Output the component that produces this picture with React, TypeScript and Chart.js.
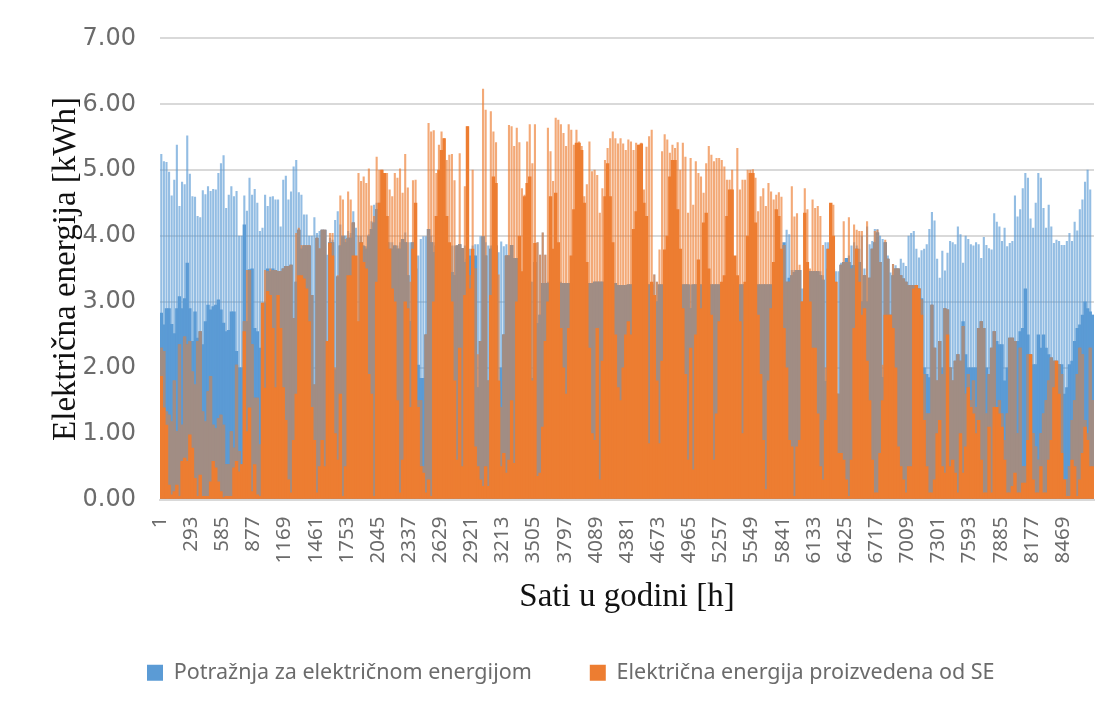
import React, { useEffect, useRef } from "react";
import { Chart, registerables } from "chart.js";

Chart.register(...registerables);

const hourTicks = [1,293,585,877,1169,1461,1753,2045,2337,2629,2921,3213,3505,3797,4089,4381,4673,4965,5257,5549,5841,6133,6425,6717,7009,7301,7593,7885,8177,8469];
const yTicks = [0,1,2,3,4,5,6,7];

// Daily peak of the demand (thin pale blue bars)
const demandPeak = [
5.24,5.13,5.12,4.97,4.61,4.85,5.38,4.45,4.82,4.78,5.52,4.94,4.6,4.59,4.3,4.28,4.69,4.63,4.75,4.68,4.71,4.7,4.95,5.1,5.22,4.42,4.62,4.75,4.6,4.68,4.0,4.0,4.61,4.38,4.88,4.62,4.71,4.5,4.07,4.12,4.62,4.45,4.59,4.6,4.55,
4.55,4.14,4.85,4.91,4.55,4.67,5.05,5.15,4.66,4.62,4.32,4.32,4.0,4.0,4.28,4.04,4.07,4.09,3.97,3.71,3.97,3.94,4.24,4.37,4.17,3.97,4.0,4.07,4.04,4.37,4.12,4.0,4.0,3.86,3.84,4.02,4.22,4.47,4.5,4.5,4.4,4.3,4.3,3.9,3.9,
3.85,3.85,3.9,3.9,4.05,3.9,3.9,3.75,3.75,3.7,3.95,3.99,3.99,3.9,4.0,3.9,3.8,3.75,3.7,3.7,3.7,3.7,3.85,3.85,3.85,3.87,3.81,3.85,3.8,3.8,3.85,3.87,3.87,3.99,3.9,3.9,3.85,3.85,3.85,3.85,3.75,3.91,3.84,3.87,3.7,
3.86,3.66,3.66,3.5,3.3,3.3,3.3,3.3,3.3,3.6,3.9,3.71,4.05,3.71,3.3,3.3,3.3,3.3,3.3,3.3,3.28,3.28,3.28,3.28,3.28,3.28,3.28,3.28,3.28,3.28,3.28,3.28,3.3,3.3,3.3,3.3,3.28,3.28,3.28,3.28,3.28,3.25,3.25,3.25,3.25,
3.26,3.26,3.26,3.26,3.26,3.26,3.26,3.26,3.26,3.26,3.41,3.3,3.26,3.26,3.26,3.26,3.26,3.26,3.26,3.26,3.26,3.26,3.26,3.26,3.26,3.26,3.26,3.26,3.26,3.26,3.26,3.26,3.26,3.26,3.26,3.26,3.26,3.26,3.26,3.26,3.26,3.26,3.26,3.26,3.26,
3.26,3.26,3.26,3.26,3.26,3.26,3.26,3.26,3.26,3.26,3.26,3.26,3.26,3.26,3.26,3.86,4.09,4.02,3.48,3.48,3.48,3.48,3.2,3.4,3.46,3.46,3.46,3.46,3.46,3.46,3.4,3.9,3.9,3.9,3.8,3.46,3.46,3.59,3.6,3.66,3.7,3.85,3.9,3.85,3.8,
4.0,3.5,4.14,3.87,3.92,4.1,4.1,4.0,3.95,3.85,3.7,3.44,3.57,3.55,3.47,3.65,3.59,3.54,4.0,4.04,4.07,3.8,3.67,3.78,3.8,3.87,4.1,4.36,4.23,3.65,3.36,3.77,3.47,3.74,3.92,3.9,3.87,4.14,4.02,3.59,4.0,3.95,3.87,3.85,3.9,
3.87,3.66,3.98,3.86,3.81,3.79,4.34,4.21,4.14,3.92,4.12,3.84,3.89,3.92,4.61,4.29,4.4,4.72,4.95,4.88,4.26,4.12,4.5,4.95,4.88,4.42,4.12,4.47,4.14,3.89,3.94,3.92,3.86,3.86,3.92,4.04,3.92,4.21,4.08,4.4,4.55,4.82,5.0,4.7,2.8,
];

// Level up to which the demand forms a filled blue body
const demandBody = [
2.83,2.65,2.9,2.9,2.66,2.52,2.9,3.08,2.9,3.05,3.59,2.9,2.4,2.85,2.45,2.55,2.35,2.7,2.95,2.88,2.93,2.95,3.03,2.88,2.68,2.55,2.57,2.85,2.85,2.25,2.0,2.0,4.17,2.7,3.49,3.5,2.6,2.55,2.3,2.25,2.98,3.5,3.46,3.5,3.48,
3.46,3.46,3.5,3.54,3.54,3.56,2.75,3.3,4.09,3.8,3.85,3.85,3.85,3.1,1.74,3.97,3.8,4.09,4.09,2.3,3.9,3.9,1.97,3.38,3.85,4.0,3.9,3.97,3.97,4.2,2.1,2.0,3.9,3.84,3.8,4.0,4.1,4.2,4.4,4.0,3.9,3.9,3.9,3.8,3.8,
3.85,3.8,3.8,3.95,3.9,3.4,2.7,3.9,3.5,2.04,1.84,1.84,2.5,4.1,3.9,3.75,3.85,3.7,3.7,3.7,3.7,3.55,3.45,3.4,3.85,3.87,3.81,3.6,3.65,3.7,3.7,3.7,1.7,2.4,3.99,3.7,1.8,3.8,3.85,3.85,1.7,2.0,2.5,3.7,3.7,
3.86,3.66,3.66,3.5,3.3,3.3,3.3,3.3,1.84,3.6,2.67,2.8,3.28,3.28,3.28,3.28,3.28,3.28,3.28,3.28,3.28,3.28,3.28,3.28,3.28,3.28,3.28,3.28,3.28,3.28,3.28,3.28,3.3,3.3,3.3,3.3,3.28,3.28,3.28,3.28,3.28,3.25,3.25,3.25,3.25,
3.26,3.26,3.26,3.26,3.26,3.26,3.26,3.26,3.26,3.26,3.05,3.0,3.26,3.26,3.26,3.26,3.26,3.26,3.26,3.26,3.26,3.26,3.26,3.26,2.9,3.26,3.26,3.26,3.26,3.26,3.26,3.26,3.26,3.26,3.26,3.26,3.26,3.26,3.26,3.26,3.26,2.78,3.26,3.26,3.26,
3.26,3.26,3.26,3.26,3.26,3.26,3.26,3.26,3.26,3.26,3.26,3.26,3.26,3.26,3.26,3.9,3.3,3.36,3.4,3.45,3.48,3.48,2.85,3.2,3.4,3.46,3.46,3.46,3.46,3.4,3.33,1.79,3.8,3.6,3.5,1.6,1.6,3.56,3.6,3.66,3.6,3.55,3.55,3.8,3.6,
3.0,3.4,3.0,3.36,3.8,3.9,4.05,3.6,1.85,3.9,3.65,2.8,3.4,3.5,3.5,3.4,3.35,3.3,3.25,3.25,3.25,3.2,3.2,3.05,2.0,1.9,1.85,2.95,2.3,1.8,2.4,2.0,2.9,2.88,2.0,1.8,2.1,2.2,2.1,2.7,2.2,2.0,2.0,2.0,2.0,
2.6,2.7,2.6,2.0,1.9,2.3,2.55,2.4,2.35,2.35,1.8,2.0,2.45,2.45,2.4,2.4,2.55,2.6,3.2,2.5,2.2,2.05,2.05,2.5,2.3,2.5,2.3,2.2,2.15,2.1,2.1,2.05,2.05,1.6,1.7,2.05,2.1,2.4,2.6,2.65,2.8,3.0,2.9,2.85,2.8,
];

// Daily peak of the solar production (thin pale orange bars)
const solarPeak = [
2.3,2.25,1.33,1.28,1.18,1.8,1.03,2.35,1.13,2.47,2.35,2.4,1.94,1.74,2.4,2.55,1.33,1.18,1.64,1.87,1.13,1.08,1.23,1.28,1.13,.53,.53,1.03,.78,2.04,.73,.53,2.7,3.48,3.48,2.35,1.54,1.54,.83,2.98,3.48,3.46,3.5,3.48,3.48,
3.46,3.46,3.5,3.54,3.54,3.56,2.75,4.04,4.12,3.86,3.86,3.86,3.86,3.1,1.74,3.97,3.81,4.09,4.09,2.37,4.04,4.04,2.0,3.4,4.61,4.55,3.95,4.67,4.55,4.2,2.1,4.95,4.83,4.9,4.8,5.02,4.46,4.3,5.2,5.0,5.0,4.95,4.95,4.7,4.6,
4.95,4.88,5.02,4.65,5.24,4.73,3.3,4.84,4.85,1.5,1.5,.5,2.5,5.71,5.58,5.6,4.95,5.38,5.58,5.48,5.15,5.23,5.24,4.84,3.85,5.25,3.81,4.75,5.66,3.4,5.0,3.5,2.2,2.4,6.23,5.91,1.8,5.89,5.58,5.42,3.41,1.4,2.5,3.7,5.68,
5.66,5.36,5.64,5.42,4.72,4.62,5.43,5.69,5.1,5.69,3.9,3.71,4.05,3.71,5.64,5.28,4.83,5.79,5.76,5.69,5.56,5.36,5.69,5.61,5.38,5.61,5.43,5.36,4.6,4.78,5.43,4.98,5.0,4.92,4.35,4.72,5.15,5.33,5.48,5.58,5.48,5.4,5.48,5.4,5.3,
5.46,5.43,5.3,5.41,5.38,5.41,4.7,5.35,5.51,5.61,3.41,3.3,3.79,5.28,5.54,5.46,5.26,5.38,5.33,5.42,5.0,5.41,5.2,4.35,5.18,4.47,5.13,4.95,4.9,4.65,5.1,5.36,5.23,5.13,5.18,5.18,5.15,5.05,4.85,4.85,5.0,3.26,5.33,4.7,4.85,
4.85,5.0,5.0,5.01,4.88,4.37,4.6,4.72,4.45,4.8,4.67,4.55,4.62,4.66,4.59,3.86,3.3,3.3,4.75,4.29,4.34,3.56,3.0,4.72,4.4,3.5,4.55,4.42,4.45,4.3,3.86,2.0,3.5,4.45,4.47,3.3,1.6,3.56,4.22,3.6,4.28,3.5,4.17,4.09,4.07,
4.07,3.4,4.22,3.36,3.8,4.07,4.09,3.6,2.04,3.94,3.65,2.8,3.57,3.5,3.5,3.4,3.35,3.3,3.25,3.25,3.25,3.2,3.2,3.03,1.9,1.3,1.3,2.95,2.3,1.8,2.4,1.9,2.9,2.88,2.0,1.8,2.1,2.2,2.1,2.63,1.6,1.9,1.5,1.8,1.4,
2.6,2.7,2.6,1.3,1.9,2.3,2.55,1.4,1.5,1.3,.9,1.3,2.45,2.45,2.4,1.0,2.3,.5,.5,2.2,2.2,1.0,.8,.6,1.0,1.3,1.5,1.8,2.15,2.1,2.1,2.05,1.9,.3,.3,.5,1.2,1.5,1.9,2.3,2.2,1.2,1.0,2.3,1.5,
];

// Level up to which the solar production forms a filled orange body
const solarBody = [
1.87,1.39,1.13,.22,.07,.12,.22,.05,.58,.63,.58,.98,.78,.32,.05,.37,.05,.05,.05,.27,.58,.48,.27,.12,.03,.05,.05,.05,.48,.58,.42,.53,2.55,1.03,1.39,.12,.53,.07,.05,2.98,1.69,3.16,3.1,2.6,1.7,
3.1,2.6,1.7,1.2,.3,.1,.9,1.6,3.4,3.4,3.35,3.2,2.7,1.4,.9,.1,.5,.9,.5,2.4,3.89,3.7,1.0,.6,1.6,.05,.5,3.4,3.4,3.7,3.7,2.7,3.9,3.6,3.5,1.9,1.6,.05,3.3,4.5,5.0,4.95,4.3,3.8,3.2,
3.0,1.5,.1,.6,3.0,2.9,1.4,3.8,4.5,1.4,.5,.4,.1,.3,.05,3.0,4.3,5.0,5.3,5.48,4.3,3.9,3.0,1.8,.6,2.3,.5,3.1,5.66,3.2,3.8,.8,.5,.3,.2,.5,.2,3.1,4.9,4.8,1.8,.5,.7,.4,.6,
1.5,.55,3.0,4.0,3.46,4.6,4.8,4.9,1.8,3.89,.35,.4,1.1,2.4,3.0,4.6,3.8,4.65,3.9,2.6,2.0,1.6,2.6,3.7,4.4,5.41,5.41,5.3,4.5,3.6,2.3,1.0,.9,2.6,.3,2.1,4.6,5.1,4.6,3.9,2.5,1.7,1.5,2.0,2.5,
2.7,2.5,4.1,4.37,5.38,5.4,4.5,4.3,.85,3.3,3.1,1.8,.85,2.1,3.79,4.0,4.9,5.15,5.15,4.4,3.8,2.9,1.9,.6,2.3,.45,2.5,3.64,2.9,4.2,4.35,3.5,2.8,.6,1.3,2.7,3.3,3.4,4.3,4.7,4.7,3.7,3.4,2.7,1.0,
3.3,4.0,4.95,4.95,4.2,2.8,1.9,.9,.15,1.8,2.9,3.6,4.4,4.3,3.8,2.6,2.0,.9,.8,.05,.8,.9,3.0,4.35,3.6,3.0,2.3,2.3,1.3,.5,.3,1.2,3.8,4.5,4.0,3.3,.7,.7,.6,.3,.05,.6,2.6,3.8,3.3,
2.8,2.9,2.1,1.5,.6,.1,.1,.7,1.5,2.8,2.8,2.8,2.6,2.0,.8,.5,.3,.1,.5,.5,3.2,3.25,3.2,2.8,1.2,.5,.1,.1,.3,1.0,1.2,.5,.4,2.5,.5,.6,.4,.1,1.0,.4,.8,1.7,1.4,1.3,1.0,
1.2,.6,.1,.1,1.1,.1,1.4,1.4,1.3,1.1,.6,.1,.1,.2,.4,.1,.1,.25,.25,.9,2.2,.3,.1,.1,.5,.1,.1,.6,.9,1.7,2.1,1.6,.7,.3,.05,.05,.6,.5,.05,.3,.7,1.1,.9,.5,.5,
];

const HOURS = 8760;
const points = (values: number[]) =>
  values.map((y, i) => ({ x: 1 + ((i + 0.5) * HOURS) / values.length, y }));
const overlap = solarPeak.map((s, i) => Math.min(s, demandBody[i]));

const BLUE = "#5B9BD5";
const ORANGE = "#ED7D31";
const TEXT = "#6B6B6B";

export default function App() {
  const ref = useRef<HTMLCanvasElement>(null);
  useEffect(() => {
    if (!ref.current) return;
    const body = 2.75;
    const stripe = 1.45;
    const chart = new Chart(ref.current, {
      type: "bar",
      data: {
        datasets: [
          { label: "Potražnja za električnom energijom", data: points(demandBody), backgroundColor: BLUE, barThickness: body, order: 5 },
          { label: "Električna energija proizvedena od SE", data: points(solarBody), backgroundColor: ORANGE, barThickness: body, order: 1 },
          { label: "", data: points(overlap), backgroundColor: "#A18D84", barThickness: body, order: 2 },
          { label: "", data: points(solarPeak), backgroundColor: "rgba(237,125,49,0.66)", barThickness: stripe, order: 3 },
          { label: "", data: points(demandPeak), backgroundColor: "rgba(91,155,213,0.66)", barThickness: stripe, order: 4 },
        ],
      },
      options: {
        animation: false,
        responsive: false,
        layout: { padding: { left: 40, top: 36, right: 12, bottom: -5 } },
        datasets: { bar: { grouped: false, borderWidth: 0 } },
        scales: {
          x: {
            type: "linear",
            offset: false,
            min: 1,
            max: HOURS,
            afterBuildTicks: (s: any) => { s.ticks = hourTicks.map((value) => ({ value })); },
            afterFit: (s: any) => { s.height = 118; },
            grid: { display: false },
            border: { color: "#D9D9D9", width: 2 },
            ticks: {
              autoSkip: false, minRotation: 90, maxRotation: 90, padding: 9,
              color: TEXT, font: { family: "Noto Sans", size: 20.5 },
              callback: (v: any) => String(v),
            },
            title: {
              display: true, text: "Sati u godini [h]", color: "#111",
              font: { family: "Liberation Serif", size: 33 }, padding: { top: 0, bottom: 0 },
            },
          },
          y: {
            min: 0,
            max: 7,
            afterBuildTicks: (s: any) => { s.ticks = yTicks.map((value) => ({ value })); },
            afterFit: (s: any) => { s.width = 120; },
            grid: { color: "#D9D9D9", lineWidth: 2, drawTicks: false },
            border: { display: false },
            ticks: {
              padding: 24, color: TEXT, font: { family: "DejaVu Sans", size: 24 },
              callback: (v: any) => Number(v).toFixed(2),
            },
            title: {
              display: true, text: "Električna energija [kWh]", color: "#111",
              font: { family: "Liberation Serif", size: 33 }, padding: { top: 7, bottom: 0 },
            },
          },
        },
        plugins: {
          tooltip: { enabled: false },
          legend: {
            position: "bottom",
            align: "start",
            labels: {
              boxWidth: 16, boxHeight: 16, padding: 58, color: TEXT,
              font: { family: "Noto Sans", size: 21.5 },
              filter: (item: any) => item.text !== "",
              sort: (a: any, b: any) => a.datasetIndex - b.datasetIndex,
            },
          },
        },
      },
      plugins: [
        {
          id: "placeLegend",
          afterLayout(c: any) {
            c.legend.left = 89;
            c.legend.right = 1106;
            c.legend.top = 604;
          },
        },
      ],
    } as any);
    return () => chart.destroy();
  }, []);
  return (
    <div style={{ position: "absolute", left: 0, top: 0, width: 1106, height: 702, background: "#fff" }}>
      <canvas ref={ref} width={1106} height={702} style={{ display: "block", filter: "blur(0.45px)" }} />
    </div>
  );
}
